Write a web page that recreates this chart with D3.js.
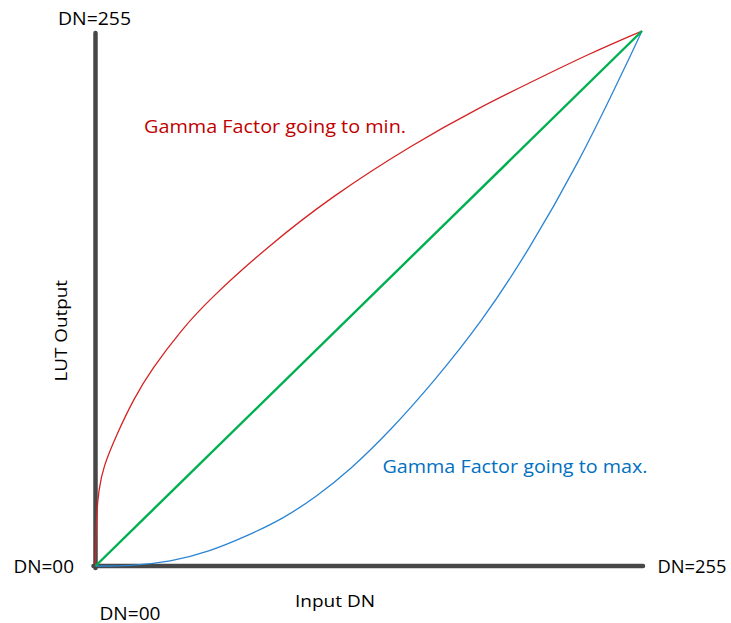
<!DOCTYPE html>
<html>
<head>
<meta charset="utf-8">
<script src="https://cdn.jsdelivr.net/npm/d3@7"></script>
<style>
  html, body { margin: 0; padding: 0; background: #ffffff; }
  svg { display: block; }
  text { font-family: "Open Sans", "Noto Sans", sans-serif; }
</style>
</head>
<body>
<svg id="chart" width="731" height="623"></svg>
<script>
// Input DN range
const dnDomain = [0, 255];

// Linear LUT (gamma = 1)
const linearIn  = [0, 255];
const linearOut = [0, 255];

// LUT with gamma factor going to min (curve bends upward)
const minGammaIn  = [0, 0.2, 0.6, 1.5, 3.5, 10, 18, 26, 40, 53, 80, 110, 148, 180, 204, 230, 255];
const minGammaOut = [0, 14, 26, 36, 47, 63, 80, 93.5, 112.5, 127, 152, 176, 201, 219, 231, 244, 255];

// LUT with gamma factor going to max (curve bends downward)
const maxGammaIn  = [0, 16, 35, 53, 70, 87.5, 103, 118.8, 138, 157.5, 180, 202.8, 226, 241.5, 250, 255];
const maxGammaOut = [0, 0, 2, 6.8, 14, 22.5, 33, 45.8, 65, 87.5, 116, 151.5, 193.5, 226, 244, 255];

// End labels of the axes
const axisEndLabels = ["DN=00", "DN=255", "DN=00", "DN=255"];
const axisTitles = ["Input DN", "LUT Output"];
const curveLabels = ["Gamma Factor going to min.", "Gamma Factor going to max."];

const svg = d3.select("#chart");

const x = d3.scaleLinear().domain(dnDomain).range([95.5, 642]);
const y = d3.scaleLinear().domain(dnDomain).range([566, 31]);

const axisColor = "#474747";

// Axes drawn as plain thick lines
svg.append("line")
  .attr("x1", x(0)).attr("y1", y(0) + 2)
  .attr("x2", x(0)).attr("y2", y(255) + 2)
  .attr("stroke", axisColor).attr("stroke-width", 4.5).attr("stroke-linecap", "round");
svg.append("line")
  .attr("x1", x(0) - 2).attr("y1", y(0))
  .attr("x2", x(255) + 1).attr("y2", y(0))
  .attr("stroke", axisColor).attr("stroke-width", 4.5).attr("stroke-linecap", "round");

const zip = (xs, ys) => xs.map((v, i) => [v, ys[i]]);

// Smooth B-spline through the sampled LUT values
const line = d3.line()
  .x(d => x(d[0]))
  .y(d => y(d[1]))
  .curve(d3.curveBasis);

svg.append("path")
  .datum(zip(minGammaIn, minGammaOut))
  .attr("d", line)
  .attr("fill", "none").attr("stroke", "#d42323").attr("stroke-width", 1.3);

svg.append("path")
  .datum(zip(maxGammaIn, maxGammaOut))
  .attr("d", line)
  .attr("fill", "none").attr("stroke", "#2b85d4").attr("stroke-width", 1.3);

svg.append("path")
  .datum(zip(linearIn, linearOut))
  .attr("d", d3.line().x(d => x(d[0])).y(d => y(d[1])))
  .attr("fill", "none").attr("stroke", "#00b050").attr("stroke-width", 2.4);

// Text helper: left-anchored text fitted to a given width
function label(txt, x0, baseline, width, color, size) {
  return svg.append("text")
    .attr("x", x0).attr("y", baseline)
    .attr("font-size", size)
    .attr("fill", color)
    .attr("textLength", width)
    .attr("lengthAdjust", "spacingAndGlyphs")
    .text(txt);
}

label(axisEndLabels[1], 58, 25, 73, "#000000", 18);     // top of output axis
label(axisEndLabels[0], 13.5, 572.5, 60.5, "#000000", 18); // origin, output axis
label(axisEndLabels[2], 99.5, 619.5, 61, "#000000", 18);  // origin, input axis
label(axisEndLabels[3], 657.5, 572.5, 69, "#000000", 18); // end of input axis
label(axisTitles[0], 295, 606.5, 80, "#000000", 17);

svg.append("text")
  .attr("transform", "translate(67,381.5) rotate(-90)")
  .attr("font-size", 17)
  .attr("fill", "#000000")
  .attr("textLength", 101.5)
  .attr("lengthAdjust", "spacingAndGlyphs")
  .text(axisTitles[1]);

label(curveLabels[0], 144, 133.3, 262, "#c00000", 18.5);
label(curveLabels[1], 382.5, 472.7, 265, "#0070c0", 18.5);
</script>
</body>
</html>
